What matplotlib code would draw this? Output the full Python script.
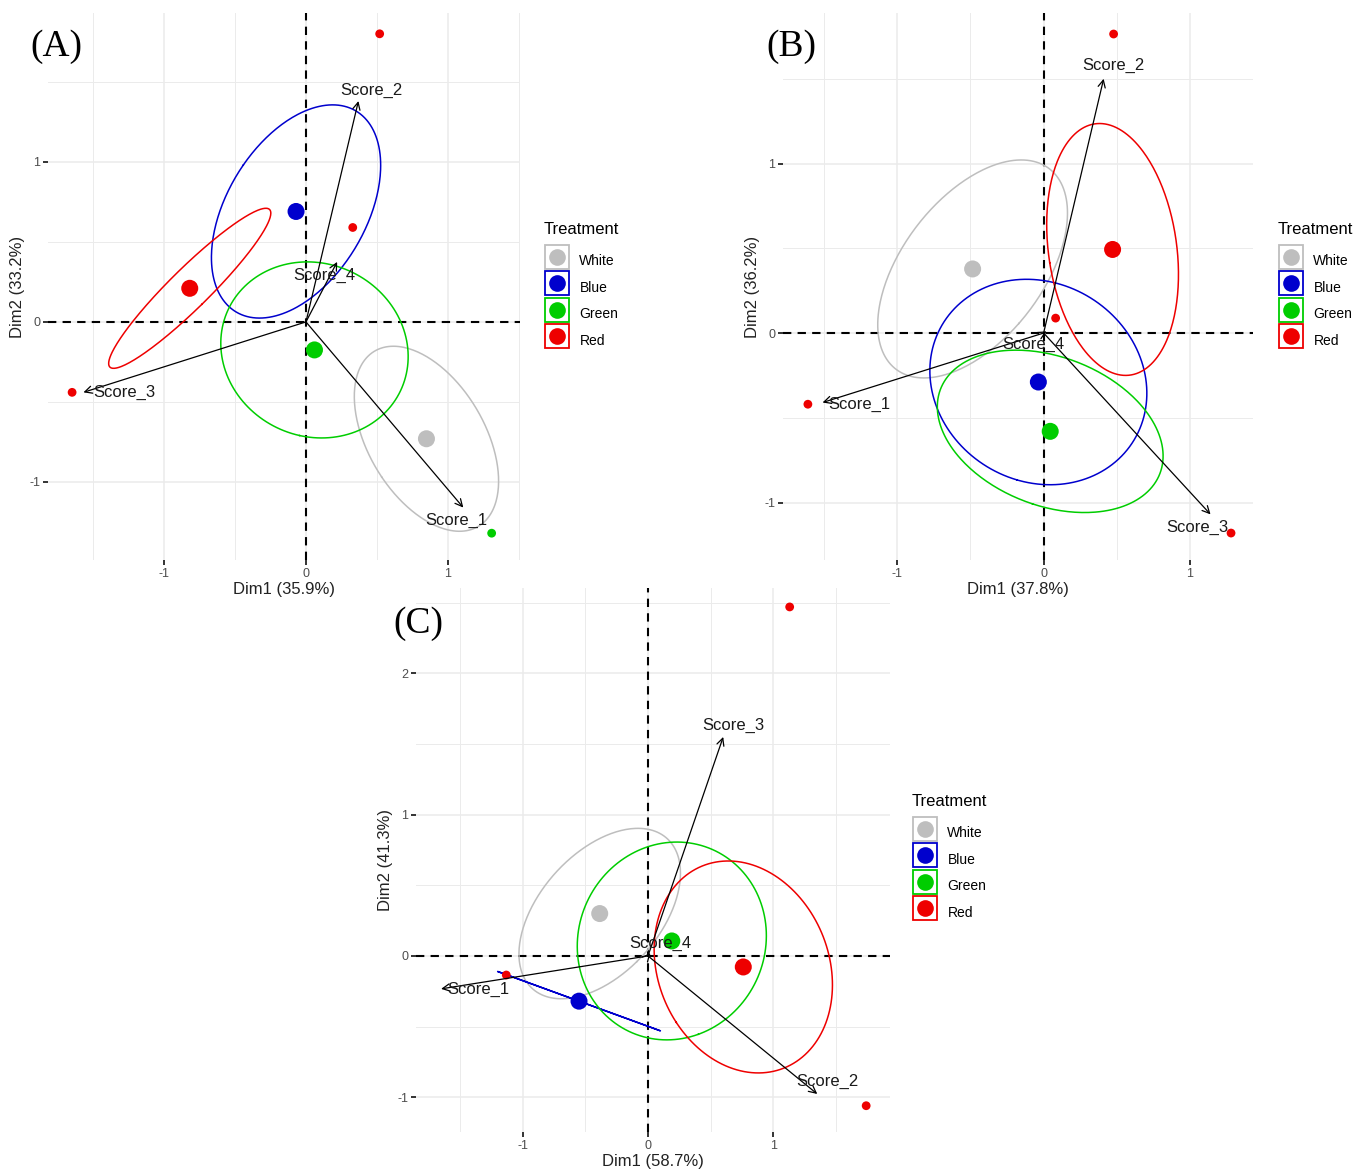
import numpy as np
import matplotlib
matplotlib.use("Agg")
import matplotlib.pyplot as plt
from matplotlib.lines import Line2D

plt.rcParams['font.family'] = ['Liberation Sans', 'DejaVu Sans']
plt.rcParams['axes.unicode_minus'] = False

W, H = 1370, 1171

groups = ["White", "Blue", "Green", "Red"]
group_colors = ["#BEBEBE", "#0000CD", "#00CD00", "#EE0000"]
var_names = ["Score_1", "Score_2", "Score_3", "Score_4"]

# panel A
a_mean_x = [0.85, -0.07, 0.06, -0.82]
a_mean_y = [-0.73, 0.69, -0.175, 0.21]
a_ell_wx = [0.509, 0.597, 0.661, 0.572]
a_ell_wy = [0.578, 0.666, 0.55, 0.50]
a_ell_dxt = [-0.233, 0.258, -0.05, 0.537]
a_ind_x = [0.52, 0.33, -1.65, 1.31]
a_ind_y = [1.80, 0.59, -0.44, -1.32]
a_ind_grp = ["Red", "Red", "Red", "Green"]
a_var_x = [1.11, 0.37, -1.57, 0.22]
a_var_y = [-1.16, 1.38, -0.44, 0.375]

# panel B
b_mean_x = [-0.485, -0.036, 0.045, 0.471]
b_mean_y = [0.378, -0.289, -0.58, 0.493]
b_ell_wx = [0.648, 0.741, 0.771, 0.45]
b_ell_wy = [0.643, 0.606, 0.479, 0.743]
b_ell_dxt = [0.332, -0.081, -0.234, -0.089]
b_ind_x = [0.478, 0.082, -1.61, 1.28]
b_ind_y = [1.764, 0.088, -0.42, -1.18]
b_ind_grp = ["Red", "Red", "Red", "Red"]
b_var_x = [-1.51, 0.41, 1.14, 0.02]
b_var_y = [-0.41, 1.50, -1.07, 0.01]

# panel C
c_mean_x = [-0.385, -0.55, 0.19, 0.76]
c_mean_y = [0.30, -0.32, 0.106, -0.078]
c_ell_wx = [0.644, 0.649, 0.754, 0.711]
c_ell_wy = [0.603, 0.21, 0.70, 0.75]
c_ell_dxt = [0.305, -0.649, 0.04, -0.12]
c_ind_x = [1.13, 1.74, -1.13]
c_ind_y = [2.47, -1.06, -0.135]
c_ind_grp = ["Red", "Red", "Red"]
c_var_x = [-1.65, 1.35, 0.60, 0.02]
c_var_y = [-0.233, -0.977, 1.55, 0.02]


def ellipse_xy(cx, cy, wx, wy, dxt, n=300):
    # ellipse from x/y half-extents and x-offset of its top point
    sxy = dxt * wy
    cov = np.array([[wx ** 2, sxy], [sxy, wy ** 2]])
    vals, vecs = np.linalg.eigh(cov)
    vals = np.clip(vals, 0, None)
    t = np.linspace(0, 2 * np.pi, n)
    circ = np.vstack([np.cos(t), np.sin(t)])
    pts = vecs @ (np.sqrt(vals)[:, None] * circ)
    return cx + pts[0], cy + pts[1]


fig = plt.figure(figsize=(W / 100, H / 100), dpi=100)


def px_axes(l, r, t, b):
    return fig.add_axes([l / W, 1 - b / H, (r - l) / W, (b - t) / H])


def draw_panel(ax, xlim, ylim, yticks, mean_x, mean_y, ell_wx, ell_wy, ell_dxt,
               ind_x, ind_y, ind_grp, var_x, var_y, lab_off, xlabel, ylabel):
    for s in ax.spines.values():
        s.set_visible(False)
    ax.set_xticks([-1, 0, 1])
    ax.set_xticks([-1.5, -0.5, 0.5, 1.5], minor=True)
    ax.set_yticks(yticks)
    ax.set_yticks([v + 0.5 for v in [yticks[0] - 1] + yticks], minor=True)
    ax.set_xlim(*xlim)
    ax.set_ylim(*ylim)
    ax.grid(which='major', color='#EBEBEB', lw=1.1)
    ax.grid(which='minor', color='#EBEBEB', lw=0.7)
    ax.set_axisbelow(True)
    ax.tick_params(which='major', length=3.5, width=1.4, color='#333333',
                   labelsize=9, labelcolor='#4D4D4D', pad=2)
    ax.tick_params(which='minor', length=0)
    ax.set_xlabel(xlabel, fontsize=12, color='#222222', labelpad=2)
    ax.set_ylabel(ylabel, fontsize=12, color='#222222', labelpad=3)

    ax.axhline(0, color='black', lw=1.5, ls=(0, (4, 3)), zorder=2)
    ax.axvline(0, color='black', lw=1.5, ls=(0, (4, 3)), zorder=2)

    for i, g in enumerate(groups):
        ex, ey = ellipse_xy(mean_x[i], mean_y[i], ell_wx[i], ell_wy[i], ell_dxt[i])
        ax.plot(ex, ey, color=group_colors[i], lw=1.1, zorder=3)
        ax.scatter(mean_x[i], mean_y[i], s=150, color=group_colors[i],
                   edgecolors='none', zorder=4)

    ind_col = [group_colors[groups.index(g)] for g in ind_grp]
    ax.scatter(ind_x, ind_y, s=40, c=ind_col, edgecolors='none', zorder=4)

    for i, name in enumerate(var_names):
        ax.annotate("", xy=(var_x[i], var_y[i]), xytext=(0, 0),
                    arrowprops=dict(arrowstyle="->", color='black', lw=0.9,
                                    shrinkA=0, shrinkB=0, mutation_scale=13),
                    zorder=5)
        ax.annotate(name, xy=(var_x[i], var_y[i]), xytext=lab_off[i],
                    textcoords='offset points', ha='center', va='center',
                    fontsize=12, color='#1A1A1A', zorder=6)


def add_legend(x_px, y_px):
    handles = []
    for c in group_colors:
        box = Line2D([], [], ls='none', marker='s', markersize=17.5,
                     markerfacecolor='white', markeredgecolor=c,
                     markeredgewidth=1.3)
        dot = Line2D([], [], ls='none', marker='o', markersize=12,
                     markerfacecolor=c, markeredgecolor='none')
        handles.append((box, dot))
    leg = fig.legend(handles, groups, title='Treatment', loc='upper left',
                     bbox_to_anchor=(x_px / W, 1 - y_px / H), frameon=False,
                     fontsize=10, title_fontsize=12, alignment='left',
                     handlelength=1.8, handleheight=2.42, labelspacing=0.1,
                     handletextpad=0.75, borderpad=0, borderaxespad=0)
    leg._legend_box.sep = 8


ax_a = px_axes(48, 520, 13, 560)
draw_panel(ax_a, (-1.82, 1.51), (-1.4875, 1.93), [-1, 0, 1],
           a_mean_x, a_mean_y, a_ell_wx, a_ell_wy, a_ell_dxt,
           a_ind_x, a_ind_y, a_ind_grp, a_var_x, a_var_y,
           [(-5, -9.4), (9.4, 7.9), (29.5, 0), (-9.4, -9.4)],
           "Dim1 (35.9%)", "Dim2 (33.2%)")

ax_b = px_axes(783, 1253, 13, 560)
draw_panel(ax_b, (-1.78, 1.43), (-1.339, 1.888), [-1, 0, 1],
           b_mean_x, b_mean_y, b_ell_wx, b_ell_wy, b_ell_dxt,
           b_ind_x, b_ind_y, b_ind_grp, b_var_x, b_var_y,
           [(26.6, -1.4), (7.2, 9.4), (-9.4, -9.4), (-9.4, -9.4)],
           "Dim1 (37.8%)", "Dim2 (36.2%)")

ax_c = px_axes(416, 890, 588, 1132)
draw_panel(ax_c, (-1.85, 1.93), (-1.246, 2.604), [-1, 0, 1, 2],
           c_mean_x, c_mean_y, c_ell_wx, c_ell_wy, c_ell_dxt,
           c_ind_x, c_ind_y, c_ind_grp, c_var_x, c_var_y,
           [(26.6, -0.7), (7.2, 9.4), (7.2, 8.6), (6.8, 6.7)],
           "Dim1 (58.7%)", "Dim2 (41.3%)")

add_legend(544, 222)
add_legend(1278, 222)
add_legend(912, 794)

for lab, x, y in [("(A)", 56, 47), ("(B)", 791, 47), ("(C)", 418, 624)]:
    fig.text(x / W, 1 - y / H, lab, ha='center', va='center', fontsize=27,
             family=['Liberation Serif', 'DejaVu Serif'])

fig.savefig("out.png", dpi=100)
